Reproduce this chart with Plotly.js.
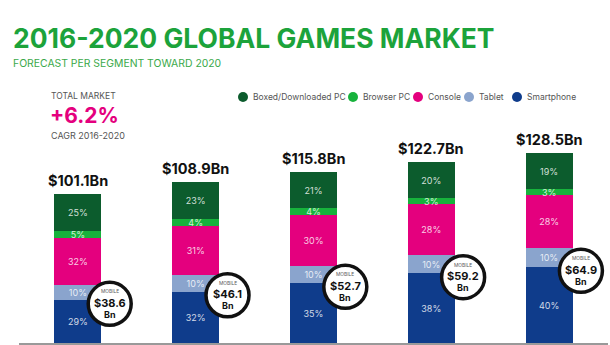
<!DOCTYPE html>
<html>
<head>
<meta charset="utf-8">
<script src="https://cdn.plot.ly/plotly-3.0.1.min.js"></script>
<style>html,body{margin:0;padding:0;background:#fff;}#chart{width:610px;height:345px;}</style>
</head>
<body>
<div id="chart"></div>
<script>
// ---- data ----
const years = ["2016", "2017", "2018", "2019", "2020"];
const totals = [101.1, 108.9, 115.8, 122.7, 128.5];
const totalLabels = ["$101.1Bn", "$108.9Bn", "$115.8Bn", "$122.7Bn", "$128.5Bn"];
const mobileLabels = ["$38.6", "$46.1", "$52.7", "$59.2", "$64.9"];
const segments = ["Smartphone", "Tablet", "Console", "Browser PC", "Boxed/Downloaded PC"];
const smartphonePct = [29, 32, 35, 38, 40];
const tabletPct = [10, 10, 10, 10, 10];
const consolePct = [32, 31, 30, 28, 28];
const browserPct = [5, 4, 4, 3, 3];
const boxedPct = [25, 23, 21, 20, 19];
const legendOrder = ["Boxed/Downloaded PC", "Browser PC", "Console", "Tablet", "Smartphone"];

// ---- styles ----
const colors = {
  "Smartphone": "#0f3c8b",
  "Tablet": "#8aa4cd",
  "Console": "#e4007e",
  "Browser PC": "#17b23c",
  "Boxed/Downloaded PC": "#0c5c2d"
};
const pcts = [smartphonePct, tabletPct, consolePct, browserPct, boxedPct];
const xs = years.map((_, i) => i);
const sums = xs.map(i => pcts.reduce((s, a) => s + a[i], 0));

// plot geometry helpers (pixel -> paper)
const L = 19, R = 2, T = 90, B = 2, W = 610, H = 345;
const pw = W - L - R, ph = H - T - B;
const px = x => (x - L) / pw;
const py = y => (H - B - y) / ph;

const traces = segments.map((name, k) => ({
  type: "bar",
  name: name,
  x: xs,
  y: xs.map(i => totals[i] * pcts[k][i] / sums[i]),
  text: pcts[k].map(v => v + "%"),
  textposition: "inside",
  insidetextanchor: "middle",
  constraintext: "none",
  textfont: {family: "Inter, 'Open Sans', sans-serif", size: 9, color: "rgba(255,255,255,0.82)"},
  marker: {color: colors[name], line: {width: 0}},
  width: 0.4,
  showlegend: false,
  hoverinfo: "skip"
}));

// mobile circles anchored at top of smartphone segment
const smartTop = xs.map(i => totals[i] * smartphonePct[i] / sums[i]);
const circleDrop = 2.5; // visual offset (data units) so circle sits slightly below segment top
traces.push({
  type: "scatter",
  mode: "markers",
  x: xs.map(i => i + 0.27),
  y: smartTop.map(v => v - circleDrop),
  marker: {size: 43, color: "#fff", line: {width: 3.5, color: "#111"}},
  showlegend: false,
  hoverinfo: "skip",
  cliponaxis: false
});

const font = "Inter, 'Open Sans', sans-serif";
const ann = [];
xs.forEach(i => {
  ann.push({x: i, y: totals[i], xref: "x", yref: "y", text: "<b>" + totalLabels[i] + "</b>",
    showarrow: false, yanchor: "bottom", yshift: 3, font: {family: font, size: 14.5, color: "#111"}});
  const cx = i + 0.27, cy = smartTop[i] - circleDrop;
  ann.push({x: cx, y: cy, xref: "x", yref: "y", text: "MOBILE", showarrow: false, yshift: 12.5,
    font: {family: font, size: 4.8, color: "#555"}});
  ann.push({x: cx, y: cy, xref: "x", yref: "y", text: "<b>" + mobileLabels[i] + "</b>", showarrow: false, yshift: 1,
    font: {family: font, size: 11, color: "#111"}});
  ann.push({x: cx, y: cy, xref: "x", yref: "y", text: "<b>Bn</b>", showarrow: false, yshift: -10.5,
    font: {family: font, size: 9, color: "#111"}});
});

// titles
ann.push({xref: "paper", yref: "paper", x: px(11), y: py(38), xanchor: "left", yanchor: "middle",
  text: "<b>2016-2020 GLOBAL GAMES MARKET</b>", showarrow: false,
  font: {family: font, size: 26.5, color: "#1ca33b", weight: 800}});
ann.push({xref: "paper", yref: "paper", x: px(11), y: py(64), xanchor: "left", yanchor: "middle",
  text: "FORECAST PER SEGMENT TOWARD 2020", showarrow: false,
  font: {family: font, size: 10.4, color: "#3aa94a"}});
ann.push({xref: "paper", yref: "paper", x: px(49), y: py(96), xanchor: "left", yanchor: "middle",
  text: "TOTAL MARKET", showarrow: false, font: {family: font, size: 8.5, color: "#555"}});
ann.push({xref: "paper", yref: "paper", x: px(48), y: py(116), xanchor: "left", yanchor: "middle",
  text: "<b>+6.2%</b>", showarrow: false, font: {family: font, size: 21, color: "#e4007e", weight: 800}});
ann.push({xref: "paper", yref: "paper", x: px(49), y: py(135), xanchor: "left", yanchor: "middle",
  text: "CAGR 2016-2020", showarrow: false, font: {family: font, size: 9, color: "#555"}});

// legend (manual, circle keys)
const legCx = [243, 353, 418, 469, 517];
const shapes = [];
legendOrder.forEach((name, j) => {
  const cx = legCx[j], cy = 97, r = 5;
  shapes.push({type: "circle", xref: "paper", yref: "paper",
    x0: px(cx - r), x1: px(cx + r), y0: py(cy + r), y1: py(cy - r),
    fillcolor: colors[name], line: {width: 0}});
  ann.push({xref: "paper", yref: "paper", x: px(cx + 8), y: py(cy), xanchor: "left", yanchor: "middle",
    text: name, showarrow: false, font: {family: font, size: 8.5, color: "#555"}});
});

const layout = {
  width: W, height: H,
  margin: {l: L, r: R, t: T, b: B, pad: 0},
  paper_bgcolor: "#fff", plot_bgcolor: "#fff",
  barmode: "stack",
  bargap: 0,
  xaxis: {range: [-0.5, 4.5], showgrid: false, zeroline: false, showticklabels: false, ticks: "",
    showline: true, linecolor: "#999", linewidth: 1.5, fixedrange: true},
  yaxis: {range: [0, ph / 1.476], showgrid: false, zeroline: false, showticklabels: false, ticks: "",
    showline: false, fixedrange: true},
  annotations: ann,
  shapes: shapes,
  showlegend: false
};

Plotly.newPlot("chart", traces, layout, {displayModeBar: false, staticPlot: true});
</script>
</body>
</html>
